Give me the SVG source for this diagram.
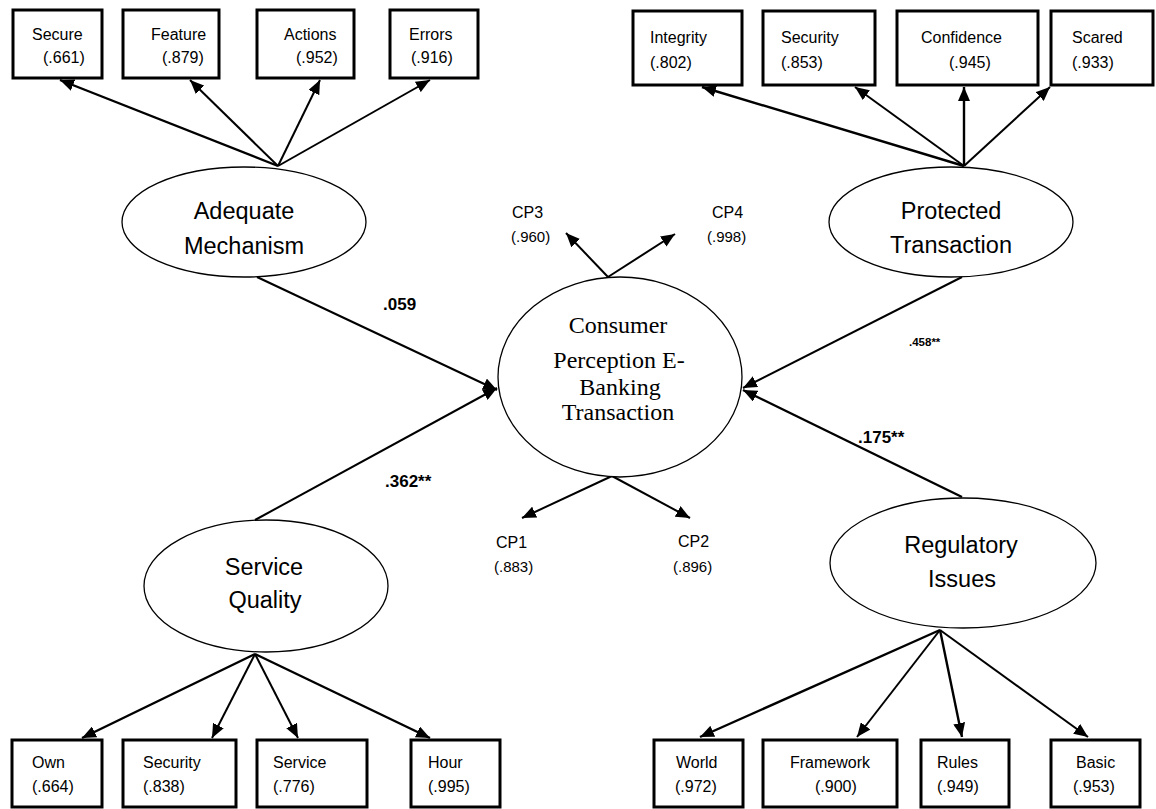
<svg xmlns="http://www.w3.org/2000/svg" width="1156" height="809" viewBox="0 0 1156 809">
<defs>
<marker id="arr" viewBox="0 0 14 12" refX="14" refY="6" markerWidth="14" markerHeight="12" markerUnits="userSpaceOnUse" orient="auto">
<path d="M0,0 L14,6 L0,12 z" fill="#000"/>
</marker>
<style>
.box{fill:#fff;stroke:#000;stroke-width:3}
.ell{fill:#fff;stroke:#000;stroke-width:1.3}
.t{font-family:"Liberation Sans",Arial,sans-serif;font-size:16px;fill:#000}
.big{font-family:"Liberation Sans",Arial,sans-serif;font-size:23.5px;fill:#000;text-anchor:middle}
.serif{font-family:"Liberation Serif","Times New Roman",serif;font-size:24px;fill:#000;text-anchor:middle}
.cp{font-family:"Liberation Sans",Arial,sans-serif;font-size:16px;fill:#000}
.cpv{font-family:"Liberation Sans",Arial,sans-serif;font-size:15px;fill:#000}
.lbl{font-family:"Liberation Sans",Arial,sans-serif;font-size:17px;font-weight:bold;fill:#000}
.c{stroke:#000;stroke-width:2;fill:none;marker-end:url(#arr)}
</style>
</defs>
<rect width="1156" height="809" fill="#fff"/>

<g id="connectors">
<line class="c" x1="278" y1="166" x2="60" y2="80" style="stroke-width:2.4"/>
<line class="c" x1="278" y1="166" x2="190" y2="80"/>
<line class="c" x1="278" y1="166" x2="320" y2="80"/>
<line class="c" x1="278" y1="166" x2="430" y2="80"/>
<line class="c" x1="964" y1="166" x2="702" y2="87" style="stroke-width:2.4"/>
<line class="c" x1="964" y1="166" x2="855" y2="87"/>
<line class="c" x1="964" y1="166" x2="964" y2="87" style="stroke-width:2.4"/>
<line class="c" x1="964" y1="166" x2="1050" y2="87"/>
<line class="c" x1="608" y1="277" x2="566" y2="233"/>
<line class="c" x1="608" y1="277" x2="675" y2="234"/>
<line class="c" x1="612" y1="476" x2="522" y2="518"/>
<line class="c" x1="612" y1="476" x2="690" y2="518"/>
<line class="c" x1="257" y1="277" x2="497" y2="390"/>
<line class="c" x1="255" y1="520" x2="497" y2="388"/>
<line class="c" x1="962" y1="277" x2="743" y2="388"/>
<line class="c" x1="962" y1="497" x2="743" y2="390" style="stroke-width:2.4"/>
<line class="c" x1="255" y1="654" x2="82" y2="738" style="stroke-width:2.4"/>
<line class="c" x1="255" y1="654" x2="212" y2="738"/>
<line class="c" x1="255" y1="654" x2="298" y2="738"/>
<line class="c" x1="255" y1="654" x2="430" y2="738" style="stroke-width:2.4"/>
<line class="c" x1="940" y1="630" x2="700" y2="737" style="stroke-width:2.4"/>
<line class="c" x1="940" y1="630" x2="857" y2="737"/>
<line class="c" x1="940" y1="630" x2="962" y2="737" style="stroke-width:2.4"/>
<line class="c" x1="940" y1="630" x2="1088" y2="737"/>
</g>

<g id="labels">
<text class="lbl" x="383" y="310">.059</text>
<text class="lbl" x="385" y="487">.362**</text>
<text class="lbl" x="858" y="443">.175**</text>
<text class="lbl" x="909" y="346" style="font-size:11.5px">.458**</text>
</g>

<g id="secure"><rect class="box" x="13" y="10" width="89" height="68"/><text class="t" x="32" y="40">Secure</text><text class="t" x="43" y="63">(.661)</text></g>
<g id="feature"><rect class="box" x="123" y="10" width="96" height="68"/><text class="t" x="151" y="40">Feature</text><text class="t" x="162" y="63">(.879)</text></g>
<g id="actions"><rect class="box" x="257" y="10" width="97" height="68"/><text class="t" x="284" y="40">Actions</text><text class="t" x="296" y="63">(.952)</text></g>
<g id="errors"><rect class="box" x="390" y="10" width="88" height="68"/><text class="t" x="409" y="40">Errors</text><text class="t" x="411" y="63">(.916)</text></g>

<g id="integrity"><rect class="box" x="633" y="11" width="109" height="74"/><text class="t" x="650" y="43">Integrity</text><text class="t" x="650" y="68">(.802)</text></g>
<g id="security-top"><rect class="box" x="763" y="11" width="112" height="74"/><text class="t" x="781" y="43">Security</text><text class="t" x="781" y="68">(.853)</text></g>
<g id="confidence"><rect class="box" x="897" y="11" width="141" height="74"/><text class="t" x="921" y="43">Confidence</text><text class="t" x="949" y="68">(.945)</text></g>
<g id="scared"><rect class="box" x="1051" y="11" width="102" height="74"/><text class="t" x="1072" y="43">Scared</text><text class="t" x="1072" y="68">(.933)</text></g>

<g id="adequate-mechanism"><ellipse class="ell" cx="244" cy="222" rx="122" ry="55"/><text class="big" x="244" y="219">Adequate</text><text class="big" x="244" y="254">Mechanism</text></g>
<g id="protected-transaction"><ellipse class="ell" cx="951" cy="222" rx="122" ry="55"/><text class="big" x="951" y="219">Protected</text><text class="big" x="951" y="253">Transaction</text></g>

<g id="consumer-perception"><ellipse class="ell" cx="620" cy="377" rx="122" ry="100"/>
<text class="serif" x="618" y="333">Consumer</text>
<text class="serif" x="619" y="368">Perception E-</text>
<text class="serif" x="620" y="395">Banking</text>
<text class="serif" x="618" y="420">Transaction</text></g>

<g id="cp3"><text class="cp" x="512" y="218">CP3</text><text class="cpv" x="511" y="242">(.960)</text></g>
<g id="cp4"><text class="cp" x="712" y="218">CP4</text><text class="cpv" x="707" y="242">(.998)</text></g>
<g id="cp1"><text class="cp" x="496" y="548">CP1</text><text class="cpv" x="494" y="572">(.883)</text></g>
<g id="cp2"><text class="cp" x="678" y="547">CP2</text><text class="cpv" x="673" y="572">(.896)</text></g>

<g id="service-quality"><ellipse class="ell" cx="266" cy="586" rx="122" ry="66"/><text class="big" x="264" y="575">Service</text><text class="big" x="265" y="608">Quality</text></g>
<g id="regulatory-issues"><ellipse class="ell" cx="963" cy="563" rx="133" ry="65"/><text class="big" x="961" y="553">Regulatory</text><text class="big" x="962" y="587">Issues</text></g>

<g id="own"><rect class="box" x="12" y="740" width="90" height="67"/><text class="t" x="32" y="768">Own</text><text class="t" x="32" y="792">(.664)</text></g>
<g id="security-bottom"><rect class="box" x="123" y="740" width="113" height="67"/><text class="t" x="143" y="768">Security</text><text class="t" x="143" y="792">(.838)</text></g>
<g id="service"><rect class="box" x="257" y="740" width="110" height="67"/><text class="t" x="273" y="768">Service</text><text class="t" x="273" y="792">(.776)</text></g>
<g id="hour"><rect class="box" x="411" y="740" width="89" height="67"/><text class="t" x="428" y="768">Hour</text><text class="t" x="428" y="792">(.995)</text></g>

<g id="world"><rect class="box" x="654" y="740" width="89" height="67"/><text class="t" x="676" y="768">World</text><text class="t" x="675" y="792">(.972)</text></g>
<g id="framework"><rect class="box" x="763" y="740" width="134" height="67"/><text class="t" x="790" y="768">Framework</text><text class="t" x="815" y="792">(.900)</text></g>
<g id="rules"><rect class="box" x="921" y="740" width="88" height="67"/><text class="t" x="937" y="768">Rules</text><text class="t" x="937" y="792">(.949)</text></g>
<g id="basic"><rect class="box" x="1051" y="740" width="89" height="67"/><text class="t" x="1076" y="768">Basic</text><text class="t" x="1073" y="792">(.953)</text></g>
</svg>
